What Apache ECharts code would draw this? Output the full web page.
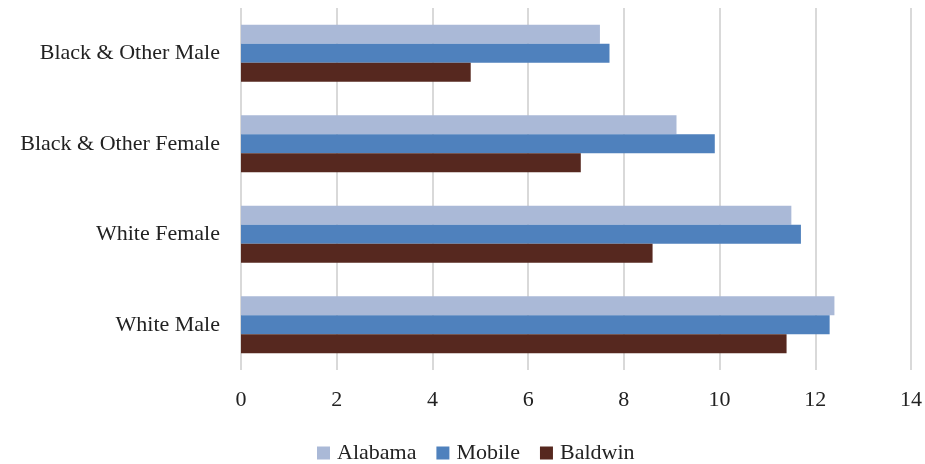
<!DOCTYPE html>
<html>
<head>
<meta charset="utf-8">
<script src="https://cdn.jsdelivr.net/npm/echarts@6/dist/echarts.min.js"></script>
<style>
  html, body { margin: 0; padding: 0; background: #fff; }
  #chart { width: 925px; height: 464px; }
</style>
</head>
<body>
<div id="chart"></div>
<script>
var categories = ['White Male', 'White Female', 'Black & Other Female', 'Black & Other Male'];
var alabama = [12.4, 11.5, 9.1, 7.5];
var mobile = [12.3, 11.7, 9.9, 7.7];
var baldwin = [11.4, 8.6, 7.1, 4.8];
var xTicks = [0, 14, 2];

var font = '"Liberation Serif", "DejaVu Serif", serif';
var option = {
  animation: false,
  textStyle: {fontFamily: font},
  grid: {left: 241, right: 11, top: 8, bottom: 94, containLabel: false},
  legend: {
    data: ['Alabama', 'Mobile', 'Baldwin'],
    top: 437,
    left: 312,
    itemWidth: 13,
    itemHeight: 13,
    itemGap: 20,
    icon: 'rect',
    itemStyle: {borderWidth: 0},
    textStyle: {fontFamily: font, fontSize: 22, color: '#222', padding: [0, 0, 0, 2]}
  },
  xAxis: {
    type: 'value',
    min: xTicks[0],
    max: xTicks[1],
    interval: xTicks[2],
    axisLine: {show: false},
    axisTick: {show: false},
    axisLabel: {fontFamily: font, fontSize: 22, color: '#222', margin: 19},
    splitLine: {lineStyle: {color: '#d9d9d9', width: 2}}
  },
  yAxis: {
    type: 'category',
    data: categories,
    axisLine: {show: false},
    axisTick: {show: false},
    axisLabel: {fontFamily: font, fontSize: 22, color: '#222', margin: 21}
  },
  series: [
    {name: 'Alabama', type: 'bar', data: alabama, barGap: '0%', barCategoryGap: '37%',
      itemStyle: {color: '#aab9d7'}},
    {name: 'Mobile', type: 'bar', data: mobile, barGap: '0%', barCategoryGap: '37%',
      itemStyle: {color: '#4f81bd'}},
    {name: 'Baldwin', type: 'bar', data: baldwin, barGap: '0%', barCategoryGap: '37%',
      itemStyle: {color: '#56281f'}}
  ]
};

var chart = echarts.init(document.getElementById('chart'));
chart.setOption(option);
</script>
</body>
</html>
